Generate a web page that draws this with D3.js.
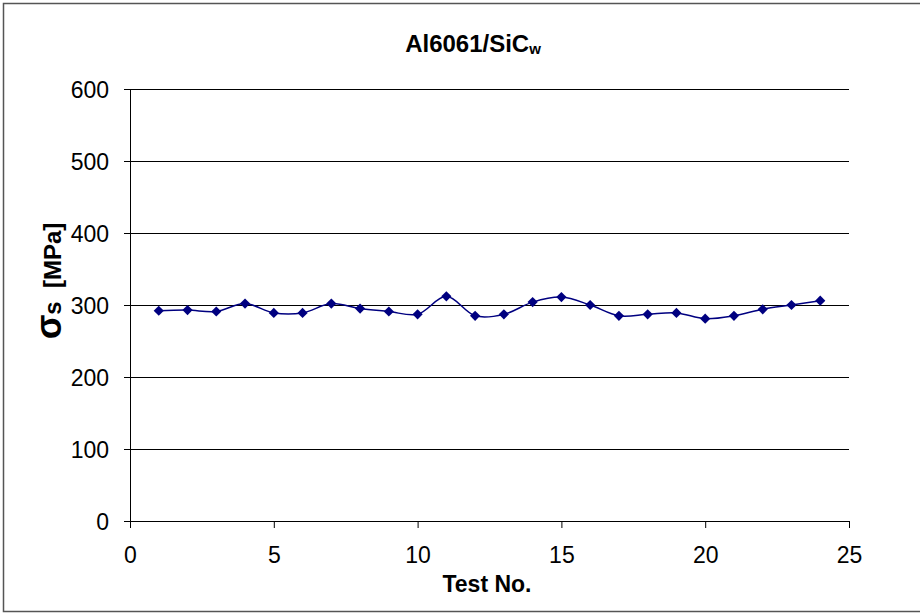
<!DOCTYPE html>
<html>
<head>
<meta charset="utf-8">
<script src="https://cdn.jsdelivr.net/npm/d3@7"></script>
<style>
  body { margin: 0; background: #fff; }
  svg { display: block; font-family: "Liberation Sans", Arial, sans-serif; }
</style>
</head>
<body>
<svg class="chart"></svg>
<script>
const testNo = [1, 2, 3, 4, 5, 6, 7, 8, 9, 10, 11, 12, 13, 14, 15, 16, 17, 18, 19, 20, 21, 22, 23, 24];
const stress = [292, 293, 291, 302, 289, 289, 302, 295, 291, 287, 312, 285,
                287, 304, 311, 300, 285, 287, 289, 281, 285, 294, 300, 306];
const xTicks = [0, 5, 10, 15, 20, 25];
const yTicks = [0, 100, 200, 300, 400, 500, 600];

const svgWidth = 920;
const svgHeight = 614;
const margin = { top: 89, right: 71, bottom: 93, left: 130 };
const chartWidth = svgWidth - margin.left - margin.right;
const chartHeight = svgHeight - margin.top - margin.bottom;

const svg = d3.select('.chart')
  .attr('width', svgWidth)
  .attr('height', svgHeight);

// outer frame
svg.append('rect')
  .attr('x', 3.5).attr('y', 3.5)
  .attr('width', 918).attr('height', 608)
  .attr('fill', 'none')
  .attr('stroke', '#555')
  .attr('stroke-width', 1.5);

const chart = svg.append('g')
  .attr('transform', 'translate(' + margin.left + ',' + margin.top + ')');

const xScale = d3.scaleLinear().domain([0, 25]).range([0, chartWidth]);
const yScale = d3.scaleLinear().domain([0, 600]).range([chartHeight, 0]);

// horizontal gridlines
chart.selectAll('.grid')
  .data(yTicks.filter(d => d > 0))
  .enter()
  .append('line')
  .attr('class', 'grid')
  .attr('x1', 0).attr('x2', chartWidth)
  .attr('y1', d => Math.round(yScale(d)) + 0.5)
  .attr('y2', d => Math.round(yScale(d)) + 0.5)
  .attr('stroke', '#000')
  .attr('stroke-width', 1);

// axes
const xAxisGroup = chart.append('g')
  .attr('transform', 'translate(0,' + chartHeight + ')')
  .call(d3.axisBottom(xScale).tickValues(xTicks).tickSize(7).tickPadding(19).tickSizeOuter(0));

const yAxisGroup = chart.append('g')
  .call(d3.axisLeft(yScale).tickValues(yTicks).tickSize(6).tickPadding(15).tickSizeOuter(0));

[xAxisGroup, yAxisGroup].forEach(g => {
  g.selectAll('path').attr('stroke', '#000').attr('stroke-width', 1);
  g.selectAll('line').attr('stroke', '#000').attr('stroke-width', 1);
  g.selectAll('text')
    .attr('fill', '#000')
    .attr('font-size', '23px')
    .attr('font-family', '"Liberation Sans", Arial, sans-serif');
});
yAxisGroup.selectAll('text').attr('dy', '0.35em');

// data line, smoothed like the original
const points = testNo.map((t, i) => ({ t: t, v: stress[i] }));

const line = d3.line()
  .x(d => xScale(d.t))
  .y(d => yScale(d.v))
  .curve(d3.curveCatmullRom.alpha(0.5));

chart.append('path')
  .datum(points)
  .attr('fill', 'none')
  .attr('stroke', '#000080')
  .attr('stroke-width', 1.5)
  .attr('d', line);

// diamond markers
chart.selectAll('.marker')
  .data(points)
  .enter()
  .append('path')
  .attr('class', 'marker')
  .attr('d', d3.symbol().type(d3.symbolSquare).size(52))
  .attr('transform', d => 'translate(' + xScale(d.t) + ',' + yScale(d.v) + ') rotate(45)')
  .attr('fill', '#000080');

// title
const title = svg.append('text')
  .attr('x', 473)
  .attr('y', 52)
  .attr('text-anchor', 'middle')
  .attr('font-size', '24px')
  .attr('font-weight', 'bold');
title.append('tspan').text('Al6061/SiC');
title.append('tspan').attr('font-size', '15px').attr('dy', 2).text('w');

// x-axis label
svg.append('text')
  .attr('x', 487)
  .attr('y', 592)
  .attr('text-anchor', 'middle')
  .attr('font-size', '23px')
  .attr('font-weight', 'bold')
  .text('Test No.');

// y-axis label
const yLabel = svg.append('text')
  .attr('transform', 'translate(61,281) rotate(-90)')
  .attr('text-anchor', 'middle')
  .attr('font-weight', 'bold')
  .attr('font-size', '24px')
  .style('white-space', 'pre');
yLabel.append('tspan').attr('font-size', '36px').text('σ');
yLabel.append('tspan').text('s  [MPa]');
</script>
</body>
</html>
